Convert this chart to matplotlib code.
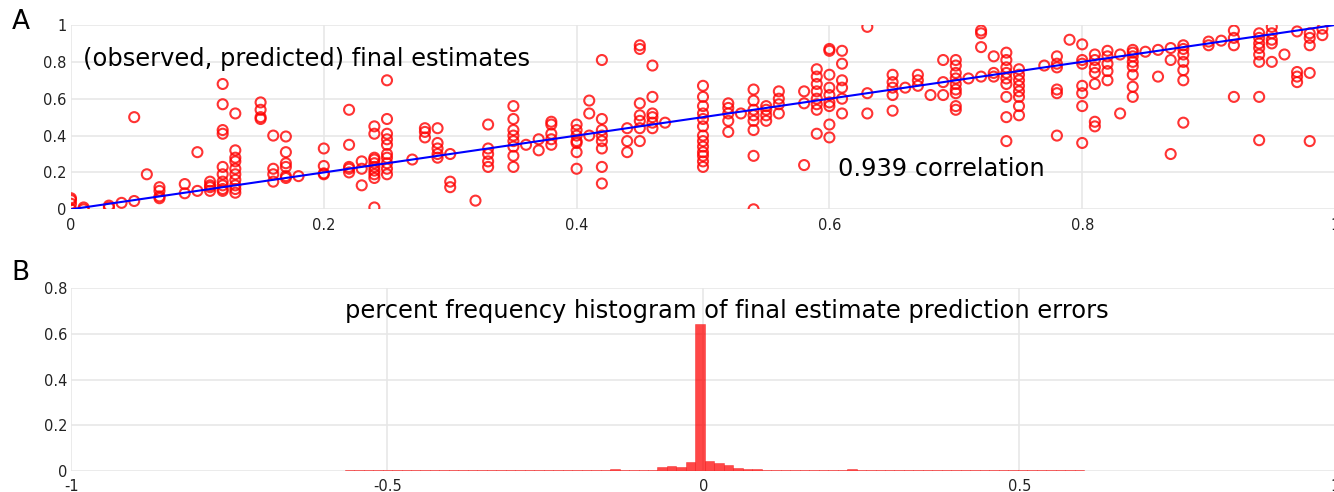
import matplotlib
matplotlib.use("Agg")
import matplotlib.pyplot as plt
import numpy as np

# (observed, predicted) pairs, grouped by observed value
observed_cols = [0.00, 0.01, 0.03, 0.04, 0.05, 0.06, 0.07, 0.09, 0.10, 0.11,
                 0.12, 0.13, 0.15, 0.16, 0.17, 0.18, 0.20, 0.22, 0.23, 0.24,
                 0.25, 0.27, 0.28, 0.29, 0.30, 0.32, 0.33, 0.35, 0.36, 0.37,
                 0.38, 0.40, 0.41, 0.42, 0.44, 0.45, 0.46, 0.47, 0.50, 0.52,
                 0.53, 0.54, 0.55, 0.56, 0.58, 0.59, 0.60, 0.61, 0.63, 0.65,
                 0.66, 0.67, 0.68, 0.69, 0.70, 0.71, 0.72, 0.73, 0.74, 0.75,
                 0.77, 0.78, 0.79, 0.80, 0.81, 0.82, 0.83, 0.84, 0.85, 0.86,
                 0.87, 0.88, 0.90, 0.91, 0.92, 0.94, 0.95, 0.96, 0.97, 0.98,
                 0.99]
predicted_cols = [
    [0.06, 0.05, 0.03, 0.0],
    [0.01, 0.0],
    [0.02, 0.01],
    [0.035],
    [0.5, 0.045],
    [0.19],
    [0.12, 0.10, 0.07, 0.06],
    [0.137, 0.087],
    [0.31, 0.10],
    [0.15, 0.13, 0.12, 0.10],
    [0.68, 0.57, 0.43, 0.41, 0.23, 0.19, 0.15, 0.13, 0.11, 0.10],
    [0.52, 0.32, 0.28, 0.26, 0.22, 0.19, 0.16, 0.13, 0.11, 0.09],
    [0.58, 0.54, 0.50, 0.49],
    [0.40, 0.22, 0.19, 0.15],
    [0.395, 0.31, 0.25, 0.23, 0.18, 0.17],
    [0.18],
    [0.33, 0.235, 0.19, 0.195],
    [0.54, 0.35, 0.23, 0.22, 0.20],
    [0.26, 0.22, 0.13],
    [0.45, 0.41, 0.28, 0.27, 0.25, 0.23, 0.21, 0.19, 0.17, 0.01],
    [0.70, 0.49, 0.41, 0.38, 0.35, 0.30, 0.28, 0.25, 0.22, 0.19],
    [0.27],
    [0.44, 0.42, 0.39],
    [0.44, 0.36, 0.33, 0.30, 0.28],
    [0.30, 0.15, 0.12],
    [0.047],
    [0.46, 0.33, 0.30, 0.26, 0.23],
    [0.56, 0.49, 0.43, 0.40, 0.37, 0.34, 0.29, 0.23],
    [0.35],
    [0.38, 0.32],
    [0.475, 0.46, 0.41, 0.38, 0.35],
    [0.46, 0.43, 0.40, 0.37, 0.36, 0.31, 0.22],
    [0.59, 0.52, 0.40],
    [0.81, 0.49, 0.43, 0.40, 0.37, 0.33, 0.23, 0.14],
    [0.44, 0.37, 0.31],
    [0.89, 0.87, 0.575, 0.51, 0.48, 0.44, 0.37],
    [0.78, 0.61, 0.52, 0.50, 0.47, 0.44],
    [0.47],
    [0.67, 0.61, 0.56, 0.52, 0.49, 0.45, 0.40, 0.37, 0.34, 0.31, 0.29, 0.26, 0.23],
    [0.575, 0.55, 0.52, 0.48, 0.42],
    [0.52],
    [0.65, 0.59, 0.54, 0.51, 0.48, 0.43, 0.29, 0.0],
    [0.56, 0.54, 0.51, 0.48],
    [0.64, 0.60, 0.57, 0.52],
    [0.64, 0.575, 0.24],
    [0.76, 0.72, 0.68, 0.64, 0.60, 0.57, 0.54, 0.41],
    [0.87, 0.86, 0.73, 0.66, 0.62, 0.58, 0.56, 0.46, 0.39],
    [0.86, 0.79, 0.70, 0.66, 0.60, 0.52],
    [0.99, 0.63, 0.52],
    [0.73, 0.69, 0.66, 0.62, 0.535],
    [0.66],
    [0.73, 0.70, 0.67],
    [0.62],
    [0.81, 0.69, 0.62],
    [0.81, 0.78, 0.74, 0.71, 0.68, 0.65, 0.63, 0.56, 0.54],
    [0.71],
    [0.97, 0.955, 0.88, 0.72],
    [0.83, 0.74, 0.72],
    [0.85, 0.81, 0.77, 0.74, 0.71, 0.68, 0.61, 0.50, 0.37],
    [0.76, 0.73, 0.70, 0.67, 0.64, 0.61, 0.56, 0.51],
    [0.78],
    [0.83, 0.79, 0.77, 0.65, 0.63, 0.40],
    [0.92],
    [0.895, 0.81, 0.79, 0.67, 0.63, 0.56, 0.36],
    [0.84, 0.81, 0.77, 0.74, 0.68, 0.475, 0.45],
    [0.86, 0.83, 0.79, 0.75, 0.70],
    [0.84, 0.52],
    [0.865, 0.85, 0.83, 0.80, 0.775, 0.73, 0.665, 0.61],
    [0.855],
    [0.865, 0.72],
    [0.875, 0.81, 0.30],
    [0.89, 0.87, 0.84, 0.80, 0.755, 0.70, 0.47],
    [0.91, 0.89],
    [0.915],
    [0.97, 0.93, 0.89, 0.61],
    [0.955, 0.93, 0.90, 0.875, 0.84, 0.80, 0.61, 0.375],
    [0.99, 0.955, 0.92, 0.90, 0.80],
    [0.84],
    [0.965, 0.745, 0.72, 0.69],
    [0.955, 0.93, 0.89, 0.74, 0.37],
    [0.98, 0.945],
]

# histogram of prediction errors (fraction per bin)
err_bin_start = -0.5675
err_bin_width = 0.015
err_freq = [0.003, 0.005, 0.003, 0.003, 0.005, 0.003, 0.003, 0.005, 0.003, 0.003,
            0.005, 0.003, 0.003, 0.005, 0.003, 0.005, 0.003, 0.003, 0.003, 0.003,
            0.005, 0.003, 0.005, 0.005, 0.003, 0.003, 0.006, 0.003, 0.007, 0.004,
            0.004, 0.004, 0.004, 0.019, 0.020, 0.019, 0.039, 0.645, 0.044, 0.035,
            0.025, 0.011, 0.010, 0.008, 0.004, 0.004, 0.004, 0.004, 0.004, 0.003,
            0.005, 0.003, 0.003, 0.008, 0.003, 0.005, 0.003, 0.003, 0.003, 0.003,
            0.003, 0.005, 0.003, 0.003, 0.005, 0.003, 0.003, 0.005, 0.003, 0.003,
            0.003, 0.003, 0.003, 0.005, 0.005, 0.003, 0.003, 0.003]

obs = []
pred = []
for x, ys in zip(observed_cols, predicted_cols):
    obs += [x] * len(ys)
    pred += ys

W, H = 1334, 492
fig = plt.figure(figsize=(W / 100, H / 100), dpi=100)
plt.rcParams["font.family"] = ["DejaVu Sans"]
grid_c = "#e6e6e6"
tick_c = "#222222"

# panel A
ax1 = fig.add_axes([71 / W, 1 - 209.3 / H, 1264 / W, 184.3 / H])
ax1.plot([0, 1], [0, 1], color="#0000ff", lw=1.5, zorder=3)
ax1.scatter(obs, pred, s=52, facecolors="none", edgecolors="red",
            linewidths=1.5, alpha=0.8, zorder=2)
ax1.set_xlim(0, 1)
ax1.set_ylim(0, 1)
ax1.set_xticks([0, 0.2, 0.4, 0.6, 0.8, 1])
ax1.set_xticklabels(["0", "0.2", "0.4", "0.6", "0.8", "1"])
ax1.set_yticks([0, 0.2, 0.4, 0.6, 0.8, 1])
ax1.set_yticklabels(["0", "0.2", "0.4", "0.6", "0.8", "1"])

# panel B
ax2 = fig.add_axes([71.3 / W, 1 - 471 / H, 1264 / W, 182.7 / H])
edges = err_bin_start + err_bin_width * np.arange(len(err_freq))
ax2.bar(edges, err_freq, width=err_bin_width, align="edge",
        color=(1, 0, 0, 0.72), edgecolor=(0.95, 0.1, 0.1, 0.5), linewidth=0.6, zorder=2)
ax2.set_xlim(-1, 1)
ax2.set_ylim(0, 0.8)
ax2.set_xticks([-1, -0.5, 0, 0.5, 1])
ax2.set_xticklabels(["-1", "-0.5", "0", "0.5", "1"])
ax2.set_yticks([0, 0.2, 0.4, 0.6, 0.8])
ax2.set_yticklabels(["0", "0.2", "0.4", "0.6", "0.8"])

for ax in (ax1, ax2):
    for s in ax.spines.values():
        s.set_visible(False)
    ax.grid(True, color=grid_c, lw=1.1, zorder=0)
    ax.set_axisbelow(True)
    ax.tick_params(axis="both", length=0, labelsize=10.5, colors=tick_c)
    ax.tick_params(axis="x", pad=6)
    ax.tick_params(axis="y", pad=3)

fig.text(12 / W, 1 - 22 / H, "A", fontsize=19, va="center", ha="left")
fig.text(11 / W, 1 - 273 / H, "B", fontsize=19, va="center", ha="left")
fig.text(83 / W, 1 - 59 / H, "(observed, predicted) final estimates",
         fontsize=17.4, va="center", ha="left")
fig.text(838 / W, 1 - 169 / H, "0.939 correlation",
         fontsize=17.4, va="center", ha="left")
fig.text(345 / W, 1 - 311 / H,
         "percent frequency histogram of final estimate prediction errors",
         fontsize=17.4, va="center", ha="left")

fig.savefig("out.png", dpi=100)
